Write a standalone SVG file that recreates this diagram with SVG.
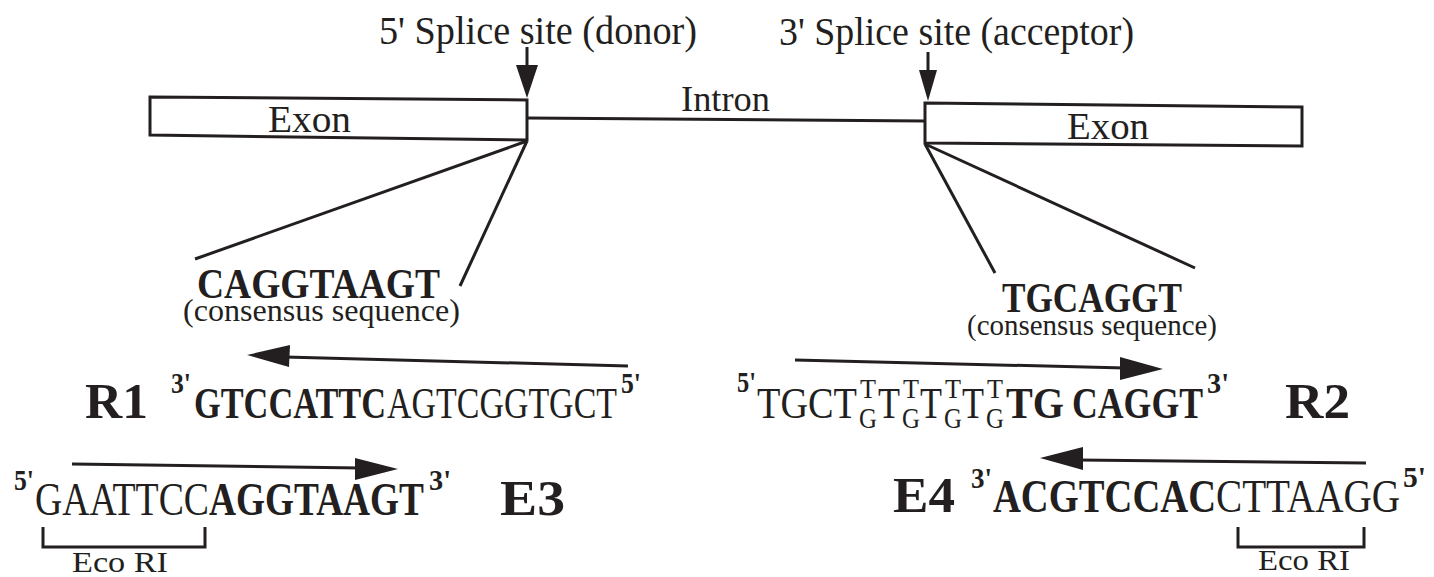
<svg xmlns="http://www.w3.org/2000/svg" width="1434" height="577" viewBox="0 0 1434 577">
<style>
text{font-family:"Liberation Serif","Times New Roman",serif;fill:#231f20}
.b{font-weight:bold}
.ln{stroke:#231f20;stroke-width:3;fill:none}
.box{stroke:#231f20;stroke-width:3;fill:#fff}
.ah{fill:#231f20;stroke:none}
</style>
<rect width="1434" height="577" fill="#fff"/>

<g id="labels">
<text x="379" y="44" font-size="40" textLength="318" lengthAdjust="spacingAndGlyphs">5' Splice site (donor)</text>
<text x="779" y="45" font-size="40" textLength="355" lengthAdjust="spacingAndGlyphs">3' Splice site (acceptor)</text>
</g>

<g id="exon-left">
<polygon class="box" points="150,97 527,100 527,140 150,135"/>
<text x="268" y="132" font-size="37" textLength="83" lengthAdjust="spacingAndGlyphs">Exon</text>
</g>

<g id="intron">
<text x="681" y="111" font-size="35" textLength="89" lengthAdjust="spacingAndGlyphs">Intron</text>
</g>

<g id="exon-right">
<polygon class="box" points="925,103 1302,107 1302,146 925,143"/>
<text x="1067" y="139" font-size="37" textLength="82" lengthAdjust="spacingAndGlyphs">Exon</text>
</g>

<g id="connectors">
<line class="ln" x1="527" y1="47" x2="527" y2="68"/>
<polygon class="ah" points="516,65 538,65 527,98"/>
<line class="ln" x1="928" y1="52" x2="928" y2="72"/>
<polygon class="ah" points="919,70 937,70 928,101"/>
<line class="ln" x1="527" y1="118" x2="925" y2="121"/>
<line class="ln" x1="527" y1="141" x2="195" y2="259"/>
<line class="ln" x1="527" y1="141" x2="460" y2="286"/>
<line class="ln" x1="925" y1="144" x2="995" y2="273"/>
<line class="ln" x1="925" y1="144" x2="1195" y2="268"/>
<line class="ln" x1="628" y1="366" x2="285" y2="357"/>
<polygon class="ah" points="247,355 290,345 289,367"/>
<line class="ln" x1="795" y1="360" x2="1125" y2="368"/>
<polygon class="ah" points="1163,369 1120,357 1120,380"/>
<line class="ln" x1="72" y1="464" x2="360" y2="468"/>
<polygon class="ah" points="398,469 355,458 355,480"/>
<line class="ln" x1="1366" y1="463" x2="1078" y2="460"/>
<polygon class="ah" points="1040,458 1083,447 1083,470"/>
<path class="ln" d="M43,527 V547 H205 V527"/>
<path class="ln" d="M1238,527 V547 H1364 V527"/>
</g>

<g id="donor-consensus">
<text class="b" x="197" y="298" font-size="43" textLength="243" lengthAdjust="spacingAndGlyphs">CAGGTAAGT</text>
<text x="183" y="321" font-size="31" textLength="277" lengthAdjust="spacingAndGlyphs">(consensus sequence)</text>
</g>

<g id="acceptor-consensus">
<text class="b" x="1002" y="312" font-size="43" textLength="180" lengthAdjust="spacingAndGlyphs">TGCAGGT</text>
<text x="967" y="335" font-size="29" textLength="250" lengthAdjust="spacingAndGlyphs">(consensus sequence)</text>
</g>

<g id="R1">
<text class="b" x="85" y="418" font-size="51" textLength="63" lengthAdjust="spacingAndGlyphs">R1</text>
<text class="b" x="171" y="393" font-size="29" textLength="20" lengthAdjust="spacingAndGlyphs">3'</text>
<text class="b" x="194" y="418" font-size="45" textLength="192" lengthAdjust="spacingAndGlyphs">GTCCATTC</text>
<text x="387" y="418" font-size="45" textLength="230" lengthAdjust="spacingAndGlyphs">AGTCGGTGCT</text>
<text class="b" x="621" y="393" font-size="29" textLength="20" lengthAdjust="spacingAndGlyphs">5'</text>
</g>

<g id="R2">
<text class="b" x="737" y="392" font-size="29" textLength="19" lengthAdjust="spacingAndGlyphs">5'</text>
<text x="757" y="418" font-size="45" textLength="100" lengthAdjust="spacingAndGlyphs">TGCT</text>
<text x="860" y="398" font-size="28" textLength="16" lengthAdjust="spacingAndGlyphs">T</text>
<text x="859" y="428" font-size="30" textLength="18" lengthAdjust="spacingAndGlyphs">G</text>
<text x="878" y="418" font-size="45" textLength="22" lengthAdjust="spacingAndGlyphs">T</text>
<text x="903" y="398" font-size="28" textLength="16" lengthAdjust="spacingAndGlyphs">T</text>
<text x="902" y="428" font-size="30" textLength="18" lengthAdjust="spacingAndGlyphs">G</text>
<text x="920" y="418" font-size="45" textLength="22" lengthAdjust="spacingAndGlyphs">T</text>
<text x="945" y="398" font-size="28" textLength="16" lengthAdjust="spacingAndGlyphs">T</text>
<text x="944" y="428" font-size="30" textLength="18" lengthAdjust="spacingAndGlyphs">G</text>
<text x="962" y="418" font-size="45" textLength="22" lengthAdjust="spacingAndGlyphs">T</text>
<text x="987" y="398" font-size="28" textLength="16" lengthAdjust="spacingAndGlyphs">T</text>
<text x="986" y="428" font-size="30" textLength="18" lengthAdjust="spacingAndGlyphs">G</text>
<text class="b" x="1006" y="418" font-size="45" textLength="58" lengthAdjust="spacingAndGlyphs">TG</text>
<text class="b" x="1072" y="418" font-size="45" textLength="131" lengthAdjust="spacingAndGlyphs">CAGGT</text>
<text class="b" x="1207" y="393" font-size="29" textLength="22" lengthAdjust="spacingAndGlyphs">3'</text>
<text class="b" x="1285" y="418" font-size="51" textLength="65" lengthAdjust="spacingAndGlyphs">R2</text>
</g>

<g id="E3">
<text class="b" x="14" y="490" font-size="29" textLength="20" lengthAdjust="spacingAndGlyphs">5'</text>
<text x="35" y="515" font-size="46" textLength="174" lengthAdjust="spacingAndGlyphs">GAATTCC</text>
<text class="b" x="209" y="515" font-size="46" textLength="215" lengthAdjust="spacingAndGlyphs">AGGTAAGT</text>
<text class="b" x="429" y="490" font-size="29" textLength="22" lengthAdjust="spacingAndGlyphs">3'</text>
<text class="b" x="500" y="515" font-size="51" textLength="65" lengthAdjust="spacingAndGlyphs">E3</text>
<text x="72" y="572" font-size="29" textLength="96" lengthAdjust="spacingAndGlyphs">Eco RI</text>
</g>

<g id="E4">
<text class="b" x="893" y="512" font-size="51" textLength="62" lengthAdjust="spacingAndGlyphs">E4</text>
<text class="b" x="971" y="488" font-size="29" textLength="21" lengthAdjust="spacingAndGlyphs">3'</text>
<text class="b" x="993" y="512" font-size="46" textLength="223" lengthAdjust="spacingAndGlyphs">ACGTCCAC</text>
<text x="1216" y="512" font-size="46" textLength="184" lengthAdjust="spacingAndGlyphs">CTTAAGG</text>
<text class="b" x="1403" y="487" font-size="29" textLength="23" lengthAdjust="spacingAndGlyphs">5'</text>
<text x="1258" y="570" font-size="29" textLength="92" lengthAdjust="spacingAndGlyphs">Eco RI</text>
</g>
</svg>
